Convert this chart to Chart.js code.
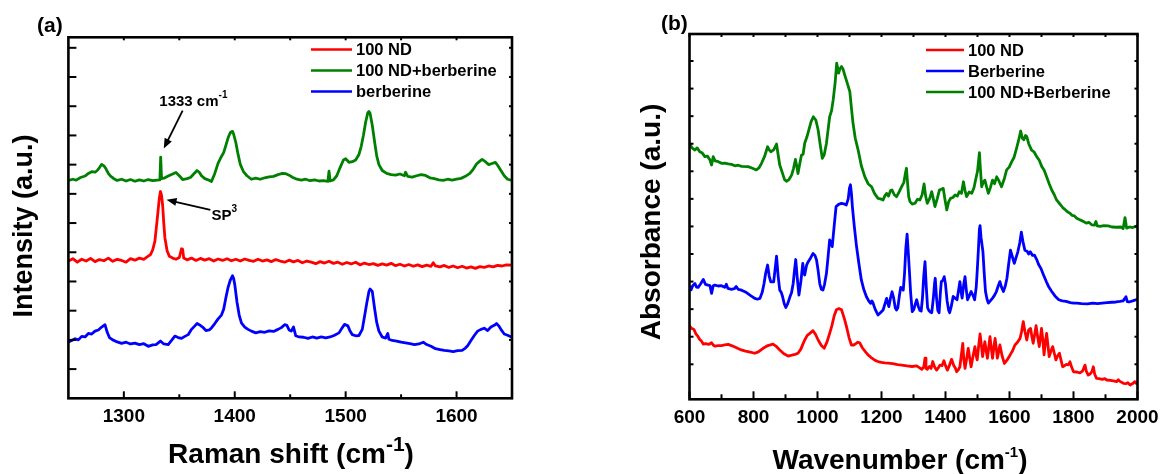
<!DOCTYPE html>
<html>
<head>
<meta charset="utf-8">
<script src="https://cdn.jsdelivr.net/npm/chart.js@4.4.1/dist/chart.umd.min.js"></script>
<style>
    html, body { margin: 0; padding: 0; background: #fff; }
    #wrap { position: relative; width: 1161px; height: 474px; }
    canvas { position: absolute; top: 0; }
    #ramanChart { left: 0; }
    #ftirChart { left: 580px; }
</style>
</head>
<body>
<div id="wrap">
    <canvas id="ramanChart" width="580" height="474"></canvas>
    <canvas id="ftirChart" width="581" height="474"></canvas>
</div>
<script>
        const FONT = 'Arial, "Liberation Sans", Helvetica, sans-serif';

        // ---- (a) Raman ----
        const ramanTicks = [1300, 1400, 1500, 1600];
        const ramanMinorTicks = [1350, 1450, 1550];
        const intensityTicks = [1, 2, 3, 4, 5, 6, 7, 8, 9, 10, 11, 12];

        const ramanNdX = [
            1250, 1254, 1258, 1262, 1266, 1270, 1274, 1278, 1282, 1286,
            1290, 1294, 1298, 1302, 1306, 1310, 1314, 1318, 1321, 1324,
            1326, 1328, 1330, 1332, 1333, 1334, 1335, 1336, 1337, 1339,
            1341, 1344, 1347, 1350, 1352, 1353, 1354, 1357, 1361, 1365,
            1369, 1373, 1377, 1381, 1385, 1389, 1393, 1397, 1401, 1405,
            1409, 1413, 1417, 1421, 1425, 1429, 1433, 1437, 1441, 1445,
            1449, 1453, 1457, 1461, 1465, 1469, 1473, 1477, 1481, 1485,
            1489, 1493, 1497, 1501, 1505, 1509, 1513, 1517, 1521, 1525,
            1529, 1533, 1537, 1541, 1545, 1549, 1553, 1557, 1561, 1565,
            1569, 1573, 1577, 1579, 1581, 1585, 1589, 1593, 1597, 1601,
            1605, 1609, 1613, 1617, 1621, 1625, 1629, 1633, 1637, 1641,
            1645, 1650];
        const ramanNdY = [
            4.70, 4.78, 4.66, 4.76, 4.70, 4.79, 4.68, 4.75, 4.71, 4.80,
            4.69, 4.76, 4.72, 4.66, 4.78, 4.73, 4.80, 4.76, 4.84, 4.92,
            5.08, 5.38, 6.10, 6.85, 7.08, 6.95, 6.60, 6.00, 5.50, 5.05,
            4.86, 4.80, 4.76, 4.82, 5.12, 5.10, 4.80, 4.74, 4.80, 4.72,
            4.79, 4.73, 4.78, 4.70, 4.77, 4.72, 4.78, 4.71, 4.76, 4.70,
            4.77, 4.72, 4.69, 4.76, 4.70, 4.74, 4.68, 4.75, 4.70, 4.66,
            4.73, 4.67, 4.72, 4.64, 4.70, 4.66, 4.61, 4.68, 4.63, 4.69,
            4.62, 4.66, 4.59, 4.65, 4.60, 4.66, 4.57, 4.63, 4.58, 4.61,
            4.55, 4.60, 4.56, 4.62, 4.54, 4.59, 4.53, 4.58, 4.52, 4.57,
            4.51, 4.56, 4.52, 4.64, 4.53, 4.50, 4.55, 4.48, 4.53, 4.47,
            4.52, 4.46, 4.50, 4.45, 4.51, 4.48, 4.53, 4.50, 4.55, 4.53,
            4.57, 4.56];

        const ramanMixX = [
            1250, 1254, 1257, 1261, 1265, 1268, 1271, 1274, 1276, 1278,
            1280, 1282, 1284, 1286, 1288, 1291, 1294, 1298, 1302, 1306,
            1310, 1314, 1318, 1322, 1326, 1330, 1332.5, 1333.2, 1334, 1337,
            1340, 1344, 1347, 1350, 1353, 1357, 1360, 1363, 1366, 1368,
            1370, 1373, 1376, 1379, 1382, 1385, 1388, 1390, 1392, 1394,
            1396, 1398, 1399, 1401, 1403, 1405, 1408, 1411, 1415, 1419,
            1423, 1427, 1431, 1435, 1439, 1443, 1446, 1449, 1452, 1456,
            1460, 1464, 1468, 1472, 1476, 1480, 1484, 1485, 1486, 1489,
            1492, 1495, 1498, 1500, 1503, 1506, 1509, 1512, 1514, 1516,
            1518, 1520, 1521, 1522, 1524, 1526, 1528, 1530, 1533, 1537,
            1541, 1545, 1549, 1553, 1554, 1556, 1560, 1564, 1568, 1572,
            1576, 1580, 1584, 1588, 1592, 1596, 1600, 1604, 1608, 1612,
            1615, 1618, 1621, 1623, 1626, 1629, 1632, 1635, 1637, 1640,
            1643, 1646, 1650];
        const ramanMixY = [
            7.46, 7.50, 7.47, 7.56, 7.61, 7.70, 7.76, 7.74, 7.80, 7.90,
            8.01, 7.96, 7.85, 7.70, 7.61, 7.52, 7.46, 7.50, 7.44, 7.49,
            7.43, 7.48, 7.44, 7.49, 7.45, 7.47, 7.48, 8.26, 7.52, 7.55,
            7.61, 7.68, 7.73, 7.62, 7.49, 7.52, 7.56, 7.68, 7.80, 7.74,
            7.62, 7.52, 7.48, 7.42, 7.70, 8.05, 8.28, 8.41, 8.66, 8.92,
            9.10, 9.14, 9.04, 8.75, 8.35, 8.01, 7.75, 7.62, 7.50, 7.54,
            7.50, 7.55, 7.58, 7.60, 7.66, 7.70, 7.69, 7.64, 7.57, 7.50,
            7.47, 7.50, 7.45, 7.48, 7.44, 7.45, 7.43, 7.78, 7.44, 7.48,
            7.62, 7.90, 8.16, 8.20, 8.08, 8.10, 8.16, 8.35, 8.62, 9.00,
            9.45, 9.78, 9.82, 9.76, 9.35, 8.81, 8.30, 8.00, 7.80, 7.70,
            7.66, 7.64, 7.68, 7.62, 7.74, 7.60, 7.57, 7.62, 7.66, 7.63,
            7.55, 7.52, 7.48, 7.46, 7.50, 7.47, 7.50, 7.53, 7.60, 7.70,
            7.84, 8.02, 8.12, 8.18, 8.10, 8.00, 8.04, 8.08, 7.98, 7.80,
            7.62, 7.50, 7.46];

        const ramanBerX = [
            1250, 1253, 1256, 1259, 1262, 1265, 1268, 1271, 1274, 1277,
            1280, 1283, 1285, 1287, 1290, 1294, 1298, 1302, 1306, 1310,
            1314, 1318, 1322, 1326, 1329, 1333, 1336, 1340, 1343, 1346,
            1349, 1352, 1355, 1358, 1361, 1364, 1366, 1368, 1371, 1374,
            1377, 1379, 1382, 1385, 1388, 1390, 1392, 1394, 1396, 1398,
            1399, 1400, 1402, 1404, 1406, 1409, 1412, 1415, 1419, 1423,
            1427, 1431, 1435, 1439, 1442, 1445, 1447, 1449, 1451, 1453,
            1455, 1458, 1462, 1466, 1470, 1474, 1478, 1482, 1486, 1490,
            1494, 1497, 1499, 1502, 1504, 1506, 1509, 1512, 1515, 1517,
            1519, 1521, 1522, 1524, 1526, 1528, 1530, 1533, 1536, 1538,
            1539, 1542, 1546, 1550, 1554, 1558, 1562, 1566, 1570, 1573,
            1577, 1581, 1585, 1589, 1593, 1597, 1601, 1605, 1608, 1610,
            1613, 1616, 1619, 1622, 1625, 1628, 1631, 1634, 1636, 1638,
            1640, 1643, 1646, 1650];
        const ramanBerY = [
            1.93, 1.98, 2.04, 2.00, 2.12, 2.10, 2.22, 2.20, 2.30, 2.34,
            2.44, 2.52, 2.26, 2.08, 2.00, 1.93, 1.88, 1.92, 1.86, 1.89,
            1.84, 1.87, 1.78, 1.83, 1.84, 1.96, 1.86, 1.84, 1.98, 2.13,
            2.08, 2.05, 2.12, 2.18, 2.36, 2.48, 2.56, 2.52, 2.44, 2.32,
            2.34, 2.41, 2.56, 2.72, 2.85, 3.05, 3.44, 3.80, 4.05, 4.20,
            4.10, 3.90, 3.30, 2.85, 2.58, 2.44, 2.36, 2.30, 2.24, 2.28,
            2.26, 2.31, 2.29, 2.36, 2.42, 2.52, 2.50, 2.34, 2.30, 2.44,
            2.14, 2.10, 2.09, 2.05, 2.10, 2.06, 2.10, 2.07, 2.10, 2.16,
            2.24, 2.42, 2.53, 2.48, 2.30, 2.18, 2.14, 2.15, 2.36, 2.80,
            3.25, 3.66, 3.74, 3.66, 3.10, 2.60, 2.30, 2.10, 2.06, 2.22,
            2.02, 1.98, 1.96, 1.92, 1.90, 1.87, 1.84, 1.86, 1.92, 1.84,
            1.78, 1.70, 1.67, 1.64, 1.62, 1.60, 1.63, 1.64, 1.72, 1.80,
            1.98, 2.15, 2.30, 2.36, 2.40, 2.32, 2.44, 2.50, 2.56, 2.48,
            2.36, 2.20, 2.16, 2.09];

        // ---- (b) FTIR ----
        const ftirTicks = [600, 800, 1000, 1200, 1400, 1600, 1800, 2000];
        const ftirMinorTicks = [700, 900, 1100, 1300, 1500, 1700, 1900];
        const absorbanceTicks = [1, 2, 3, 4, 5, 6, 7, 8, 9, 10, 11, 12];

        const ftirNdX = [
            600, 606, 612, 615, 620, 627, 632, 637, 643, 650,
            660, 669, 674, 679, 690, 700, 710, 721, 735, 750,
            762, 775, 790, 804, 815, 830, 845, 861, 870, 882,
            895, 908, 920, 930, 939, 948, 955, 960, 968, 976,
            986, 994, 1002, 1012, 1021, 1030, 1038, 1045, 1052, 1059,
            1067, 1075, 1080, 1085, 1092, 1099, 1106, 1113, 1120, 1126,
            1132, 1140, 1150, 1158, 1170, 1180, 1189, 1200, 1210, 1221,
            1235, 1250, 1263, 1280, 1295, 1310, 1318, 1326, 1332, 1336,
            1339, 1343, 1350, 1355, 1360, 1366, 1372, 1378, 1383, 1389,
            1395, 1400, 1406, 1412, 1419, 1426, 1430, 1435, 1440, 1445,
            1448, 1454, 1457, 1461, 1466, 1471, 1476, 1480, 1486, 1492,
            1496, 1499, 1504, 1508, 1512, 1516, 1520, 1523, 1527, 1531,
            1535, 1539, 1543, 1547, 1551, 1555, 1559, 1562, 1566, 1570,
            1577, 1584, 1592, 1602, 1610, 1617, 1625, 1633, 1638, 1643,
            1648, 1654, 1660, 1666, 1670, 1674, 1679, 1683, 1688, 1693,
            1697, 1700, 1704, 1708, 1712, 1716, 1720, 1724, 1730, 1735,
            1740, 1745, 1750, 1756, 1761, 1766, 1772, 1778, 1784, 1789,
            1794, 1800, 1810, 1820, 1828, 1836, 1840, 1846, 1852, 1858,
            1862, 1866, 1872, 1880, 1890, 1898, 1904, 1915, 1925, 1935,
            1940, 1945, 1956, 1965, 1970, 1977, 1985, 1992, 1997, 2000];
        const ftirNdY = [
            2.39, 2.30, 2.28, 2.24, 2.10, 2.00, 1.90, 1.85, 1.73, 1.75,
            1.72, 1.78, 1.70, 1.66, 1.68, 1.68, 1.70, 1.72, 1.66, 1.58,
            1.52, 1.48, 1.44, 1.40, 1.45, 1.58, 1.68, 1.73, 1.66, 1.52,
            1.38, 1.30, 1.33, 1.36, 1.40, 1.55, 1.75, 1.88, 2.05, 2.12,
            2.22, 2.08, 1.88, 1.68, 1.58, 1.82, 2.12, 2.40, 2.75, 2.98,
            3.02, 2.98, 2.80, 2.61, 2.30, 1.95, 1.70, 1.70, 1.75, 1.80,
            1.78, 1.60, 1.45, 1.34, 1.22, 1.14, 1.10, 1.07, 1.05, 1.04,
            1.02, 0.99, 0.97, 0.94, 0.92, 0.94, 0.88, 0.82, 0.90, 1.22,
            0.85, 0.82, 0.92, 0.85, 1.10, 0.90, 0.79, 0.88, 0.97, 0.95,
            1.13, 0.95, 0.79, 0.95, 1.18, 0.95, 0.88, 0.73, 0.80, 0.91,
            1.20, 1.76, 1.20, 0.85, 1.20, 1.58, 1.20, 0.91, 1.30, 1.64,
            1.30, 1.16, 1.70, 2.10, 1.70, 1.28, 1.60, 1.82, 1.50, 1.22,
            1.60, 2.00, 1.60, 1.22, 1.60, 1.94, 1.55, 1.22, 1.45, 1.70,
            1.30, 1.03, 1.15, 1.34, 1.50, 1.70, 1.80, 1.94, 2.20, 2.55,
            2.20, 1.88, 2.25, 2.30, 2.00, 1.76, 2.10, 2.40, 2.00, 1.64,
            2.00, 2.30, 1.90, 1.34, 1.80, 2.12, 1.70, 1.28, 1.50, 1.64,
            1.40, 1.16, 1.30, 1.40, 1.15, 0.91, 0.95, 1.00, 0.98, 1.09,
            0.90, 0.73, 0.72, 0.69, 0.75, 0.97, 0.75, 0.61, 0.65, 0.75,
            0.91, 0.65, 0.49, 0.48, 0.45, 0.48, 0.43, 0.42, 0.40, 0.37,
            0.44, 0.38, 0.31, 0.30, 0.33, 0.25, 0.30, 0.37, 0.30, 0.32];

        const ftirBerX = [
            600, 605, 610, 617, 622, 627, 635, 643, 650, 658,
            664, 669, 674, 679, 690, 700, 710, 715, 720, 731,
            740, 746, 752, 760, 768, 778, 790, 804, 812, 820,
            827, 833, 838, 844, 849, 854, 863, 868, 872, 877,
            882, 887, 891, 896, 901, 907, 914, 919, 924, 928,
            932, 937, 942, 948, 954, 957, 960, 966, 971, 978,
            986, 992, 997, 1002, 1007, 1012, 1017, 1022, 1028, 1033,
            1038, 1042, 1046, 1052, 1058, 1066, 1075, 1082, 1090, 1096,
            1100, 1103, 1106, 1109, 1115, 1122, 1130, 1137, 1145, 1153,
            1160, 1166, 1170, 1173, 1180, 1189, 1195, 1205, 1211, 1216,
            1220, 1223, 1228, 1233, 1238, 1243, 1247, 1251, 1256, 1260,
            1264, 1268, 1272, 1276, 1280, 1284, 1287, 1291, 1296, 1301,
            1306, 1310, 1315, 1320, 1324, 1328, 1332, 1336, 1340, 1344,
            1348, 1352, 1357, 1362, 1366, 1368, 1372, 1376, 1380, 1384,
            1387, 1392, 1396, 1400, 1405, 1410, 1413, 1418, 1424, 1430,
            1436, 1441, 1445, 1449, 1452, 1457, 1461, 1465, 1469, 1475,
            1480, 1486, 1491, 1496, 1499, 1503, 1506, 1508, 1511, 1517,
            1521, 1525, 1530, 1534, 1540, 1547, 1553, 1559, 1565, 1570,
            1575, 1581, 1587, 1592, 1597, 1603, 1609, 1615, 1620, 1626,
            1632, 1637, 1642, 1648, 1655, 1660, 1665, 1672, 1678, 1685,
            1691, 1698, 1706, 1715, 1723, 1732, 1742, 1754, 1765, 1777,
            1790, 1800, 1810, 1825, 1844, 1860, 1875, 1889, 1905, 1920,
            1933, 1945, 1955, 1964, 1968, 1973, 1985, 2000];
        const ftirBerY = [
            3.81, 3.70, 3.85, 3.93, 3.80, 3.79, 3.92, 4.08, 3.90, 3.87,
            3.85, 3.57, 3.85, 3.87, 3.84, 3.85, 3.79, 3.90, 3.75, 3.72,
            3.74, 3.82, 3.72, 3.70, 3.66, 3.60, 3.50, 3.39, 3.36, 3.39,
            3.60, 3.93, 4.30, 4.60, 4.20, 3.99, 3.99, 4.50, 4.92, 4.20,
            3.69, 3.60, 3.45, 3.20, 3.06, 3.20, 3.45, 3.60, 3.93, 4.40,
            4.80, 4.10, 3.51, 4.00, 4.66, 4.35, 4.24, 4.60, 4.72, 4.85,
            5.02, 4.95, 4.78, 4.40, 3.93, 3.72, 3.69, 3.90, 4.30, 4.90,
            5.51, 5.40, 5.27, 6.00, 6.72, 6.80, 6.84, 6.82, 6.78, 7.00,
            7.40, 7.51, 7.20, 6.72, 6.00, 5.27, 4.60, 4.06, 3.70, 3.45,
            3.30, 3.21, 3.30, 3.24, 3.00, 2.79, 2.85, 2.97, 3.20, 3.39,
            3.20, 3.09, 3.40, 3.63, 3.40, 3.05, 2.97, 3.05, 3.50, 3.79,
            3.75, 3.69, 4.30, 5.20, 5.72, 5.00, 4.42, 3.60, 2.91, 2.99,
            3.20, 3.34, 3.10, 2.95, 2.93, 3.40, 4.20, 4.72, 3.80, 3.05,
            2.95, 2.90, 2.87, 3.40, 3.95, 4.12, 3.40, 2.95, 2.87, 3.60,
            4.00, 4.05, 4.18, 3.90, 3.30, 2.95, 2.87, 3.10, 3.46, 3.40,
            3.34, 3.70, 4.00, 3.60, 3.40, 3.90, 4.18, 3.70, 3.34, 3.50,
            3.64, 3.50, 3.34, 3.80, 4.36, 5.20, 5.90, 6.03, 5.60, 5.08,
            4.30, 3.64, 3.35, 3.22, 3.30, 3.40, 3.50, 3.64, 3.85, 4.00,
            3.80, 3.64, 3.85, 4.12, 4.60, 5.14, 4.90, 4.66, 4.85, 5.08,
            5.40, 5.79, 5.45, 5.14, 5.10, 5.00, 5.08, 4.95, 4.96, 4.80,
            4.62, 4.48, 4.25, 4.00, 3.80, 3.64, 3.48, 3.34, 3.30, 3.28,
            3.24, 3.22, 3.22, 3.20, 3.19, 3.22, 3.20, 3.22, 3.24, 3.25,
            3.26, 3.28, 3.30, 3.45, 3.27, 3.26, 3.30, 3.36];

        const ftirMixX = [
            600, 608, 617, 624, 632, 640, 648, 656, 664, 669,
            674, 680, 690, 700, 710, 721, 731, 742, 752, 763,
            783, 795, 809, 817, 825, 835, 844, 849, 854, 863,
            872, 877, 882, 890, 897, 903, 911, 919, 925, 931,
            935, 939, 945, 950, 955, 960, 967, 973, 980, 987,
            995, 1002, 1008, 1015, 1021, 1028, 1033, 1038, 1044, 1049,
            1055, 1060, 1063, 1066, 1070, 1075, 1080, 1085, 1093, 1101,
            1106, 1111, 1118, 1127, 1137, 1148, 1158, 1169, 1178, 1189,
            1197, 1205, 1210, 1216, 1222, 1228, 1233, 1240, 1247, 1255,
            1263, 1270, 1275, 1278, 1282, 1285, 1289, 1296, 1305, 1312,
            1320, 1327, 1333, 1338, 1343, 1350, 1357, 1362, 1367, 1374,
            1381, 1387, 1393, 1398, 1404, 1410, 1416, 1423, 1430, 1437,
            1443, 1450, 1456, 1461, 1466, 1474, 1482, 1489, 1495, 1500,
            1506, 1509, 1513, 1518, 1523, 1528, 1534, 1540, 1547, 1553,
            1560, 1567, 1575, 1583, 1591, 1599, 1607, 1614, 1622, 1628,
            1635, 1640, 1645, 1650, 1654, 1660, 1669, 1677, 1685, 1693,
            1701, 1708, 1716, 1724, 1732, 1740, 1747, 1755, 1762, 1768,
            1775, 1782, 1789, 1796, 1803, 1810, 1818, 1824, 1831, 1840,
            1848, 1857, 1866, 1870, 1874, 1883, 1895, 1909, 1920, 1935,
            1948, 1955, 1961, 1966, 1975, 1985, 2000];
        const ftirMixY = [
            9.02, 8.85, 8.77, 8.85, 8.71, 8.66, 8.53, 8.55, 8.41, 8.23,
            8.53, 8.38, 8.35, 8.29, 8.30, 8.27, 8.25, 8.20, 8.22, 8.18,
            8.17, 8.12, 8.05, 8.12, 8.29, 8.55, 8.89, 8.78, 8.71, 8.78,
            8.99, 8.60, 8.23, 7.95, 7.70, 7.64, 7.70, 7.86, 8.10, 8.43,
            8.20, 7.92, 8.30, 8.59, 8.62, 9.02, 9.25, 9.50, 9.80, 9.98,
            9.85, 9.50, 9.00, 8.47, 8.60, 9.02, 9.50, 9.98, 10.20, 10.59,
            11.20, 11.92, 11.75, 11.56, 11.72, 11.80, 11.70, 11.50, 11.20, 10.89,
            10.30, 9.74, 9.20, 8.77, 8.20, 7.80, 7.55, 7.44, 7.20, 7.02,
            7.00, 6.96, 7.10, 7.20, 7.10, 7.30, 7.32, 7.15, 7.08, 7.25,
            7.44, 7.60, 7.95, 8.11, 7.50, 7.08, 6.90, 6.81, 6.84, 6.98,
            6.96, 7.15, 7.54, 7.10, 6.84, 7.00, 7.26, 7.00, 6.72, 7.00,
            7.32, 7.35, 7.38, 7.00, 6.60, 6.90, 7.02, 7.05, 7.14, 7.10,
            7.26, 7.20, 7.62, 7.30, 7.08, 7.25, 7.20, 7.40, 7.74, 8.00,
            8.68, 8.10, 7.44, 7.60, 7.68, 7.45, 7.20, 7.40, 7.68, 7.55,
            7.80, 7.65, 7.44, 7.70, 8.05, 8.15, 8.35, 8.50, 8.83, 9.10,
            9.46, 9.20, 9.14, 9.30, 9.26, 9.00, 8.77, 8.70, 8.53, 8.40,
            8.17, 8.05, 7.80, 7.55, 7.32, 7.15, 6.96, 6.85, 6.75, 6.66,
            6.60, 6.52, 6.48, 6.40, 6.38, 6.30, 6.25, 6.22, 6.18, 6.12,
            6.15, 6.06, 6.05, 6.18, 6.02, 6.00, 6.03, 6.02, 5.98, 5.97,
            5.98, 5.92, 6.32, 5.94, 5.98, 5.96, 6.02];

        const RED = '#ff0000', GREEN = '#008000', BLUE = '#0000ff';

        function pts(xs, ys) {
            return xs.map((x, i) => ({ x: x, y: ys[i] }));
        }

        function series(label, xs, ys, color) {
            return {
                label: label, data: pts(xs, ys), borderColor: color, backgroundColor: color,
                borderWidth: 2.8, pointRadius: 0, tension: 0, fill: false,
                borderJoinStyle: 'round', borderCapStyle: 'round'
            };
        }

        // texte avec exposants : parts = [{t, size, rise}]
        function drawParts(ctx, parts, x, y, align) {
            let w = 0;
            parts.forEach(p => { ctx.font = 'bold ' + p.size + 'px ' + FONT; w += ctx.measureText(p.t).width; });
            let cx = align === 'center' ? x - w / 2 : x;
            ctx.textAlign = 'left';
            ctx.textBaseline = 'alphabetic';
            parts.forEach(p => {
                ctx.font = 'bold ' + p.size + 'px ' + FONT;
                ctx.fillText(p.t, cx, y - (p.rise || 0));
                cx += ctx.measureText(p.t).width;
            });
        }

        function arrow(ctx, x1, y1, x2, y2) {
            const ang = Math.atan2(y2 - y1, x2 - x1);
            const len = 10, half = 4;
            ctx.lineWidth = 1.8;
            ctx.beginPath();
            ctx.moveTo(x1, y1);
            ctx.lineTo(x2 - Math.cos(ang) * len * 0.8, y2 - Math.sin(ang) * len * 0.8);
            ctx.stroke();
            ctx.beginPath();
            ctx.moveTo(x2, y2);
            ctx.lineTo(x2 - Math.cos(ang) * len + Math.sin(ang) * half, y2 - Math.sin(ang) * len - Math.cos(ang) * half);
            ctx.lineTo(x2 - Math.cos(ang) * len - Math.sin(ang) * half, y2 - Math.sin(ang) * len + Math.cos(ang) * half);
            ctx.closePath();
            ctx.fill();
        }

        // cadre, graduations intérieures, étiquettes, légende, annotations, titres
        const framePlugin = {
            id: 'frame',
            afterDraw(chart) {
                const o = chart.options.plugins.frame;
                const ctx = chart.ctx, a = chart.chartArea;
                const sx = chart.scales.x, sy = chart.scales.y;
                const seg = (x1, y1, x2, y2) => { ctx.beginPath(); ctx.moveTo(x1, y1); ctx.lineTo(x2, y2); ctx.stroke(); };
                ctx.save();
                ctx.strokeStyle = '#000';
                ctx.fillStyle = '#000';
                ctx.lineWidth = 2;
                o.majorX.forEach(v => {
                    const px = sx.getPixelForValue(v);
                    seg(px, a.bottom, px, a.bottom - o.xMajor);
                    seg(px, a.top, px, a.top + o.topLen);
                });
                o.minorX.forEach(v => {
                    const px = sx.getPixelForValue(v);
                    seg(px, a.bottom, px, a.bottom - o.xMinor);
                    seg(px, a.top, px, a.top + o.topLen);
                });
                o.yTicks.forEach(v => {
                    const py = sy.getPixelForValue(v);
                    seg(a.left, py, a.left + o.yLen, py);
                    seg(a.right, py, a.right - o.rightLen, py);
                });
                ctx.lineWidth = 2.6;
                ctx.strokeRect(a.left, a.top, a.right - a.left, a.bottom - a.top);

                // étiquettes de l'axe x
                ctx.font = 'bold 19px ' + FONT;
                ctx.textAlign = 'center';
                ctx.textBaseline = 'alphabetic';
                o.majorX.forEach(v => {
                    ctx.fillText(String(v), sx.getPixelForValue(v), a.bottom + o.labelGap);
                });

                // légende
                const lg = o.legend;
                lg.items.forEach((it, i) => {
                    const y = lg.y + i * lg.gap;
                    ctx.strokeStyle = it.color;
                    ctx.lineWidth = 2.5;
                    seg(lg.x, y, lg.x + lg.len, y);
                    ctx.fillStyle = '#000';
                    ctx.font = 'bold 16.5px ' + FONT;
                    ctx.textAlign = 'left';
                    ctx.textBaseline = 'middle';
                    ctx.fillText(it.label, lg.x + lg.len + 4, y + 1);
                });
                ctx.strokeStyle = '#000';
                ctx.fillStyle = '#000';

                // annotations (coordonnées des données)
                (o.notes || []).forEach(n => {
                    drawParts(ctx, n.parts, sx.getPixelForValue(n.x), sy.getPixelForValue(n.y), 'left');
                    arrow(ctx, sx.getPixelForValue(n.from[0]), sy.getPixelForValue(n.from[1]),
                        sx.getPixelForValue(n.to[0]), sy.getPixelForValue(n.to[1]));
                });

                // titres des axes
                drawParts(ctx, o.xTitle.parts, o.xTitle.x, o.xTitle.y, 'center');
                ctx.save();
                ctx.translate(o.yTitle.x, o.yTitle.y);
                ctx.rotate(-Math.PI / 2);
                drawParts(ctx, o.yTitle.parts, 0, 0, 'center');
                ctx.restore();

                // étiquette du panneau
                drawParts(ctx, [{ t: o.panel.t, size: 21 }], o.panel.x, o.panel.y, 'left');
                ctx.restore();
            }
        };

        function makeOptions(cfg) {
            return {
                responsive: false,
                animation: false,
                devicePixelRatio: 1,
                layout: { padding: cfg.padding },
                scales: {
                    x: {
                        type: 'linear', min: cfg.xMin, max: cfg.xMax,
                        afterBuildTicks: s => { s.ticks = cfg.xTicks.map(v => ({ value: v })); },
                        afterFit: s => { s.height = 0; },
                        grid: { display: false, drawTicks: false },
                        border: { display: false },
                        ticks: { display: false }
                    },
                    y: {
                        type: 'linear', min: cfg.yMin, max: cfg.yMax,
                        afterBuildTicks: s => { s.ticks = cfg.yTicks.map(v => ({ value: v })); },
                        afterFit: s => { s.width = 0; },
                        grid: { display: false, drawTicks: false },
                        border: { display: false },
                        ticks: { display: false }
                    }
                },
                plugins: {
                    legend: { display: false },
                    tooltip: { enabled: false },
                    frame: cfg.frame
                }
            };
        }

        window.onload = function () {
            // Spectre Raman (a)
            new Chart(document.getElementById('ramanChart').getContext('2d'), {
                type: 'line',
                data: {
                    datasets: [
                        series('100 ND', ramanNdX, ramanNdY, RED),
                        series('100 ND+berberine', ramanMixX, ramanMixY, GREEN),
                        series('berberine', ramanBerX, ramanBerY, BLUE)
                    ]
                },
                options: makeOptions({
                    padding: { left: 68.4, right: 68, top: 37.3, bottom: 75.7 },
                    xMin: 1250, xMax: 1650, xTicks: ramanTicks,
                    yMin: 0, yMax: 12.36, yTicks: intensityTicks,
                    frame: {
                        majorX: ramanTicks, minorX: ramanMinorTicks, yTicks: intensityTicks,
                        xMajor: 7, xMinor: 4, topLen: 3, yLen: 8, rightLen: 3, labelGap: 24,
                        legend: {
                            x: 311, y: 49.5, gap: 21, len: 41,
                            items: [
                                { label: '100 ND', color: RED },
                                { label: '100 ND+berberine', color: GREEN },
                                { label: 'berberine', color: BLUE }
                            ]
                        },
                        notes: [
                            { parts: [{ t: '1333 cm', size: 15 }, { t: '-1', size: 10, rise: 8 }],
                              x: 1332, y: 10.0, from: [1353, 9.85], to: [1336, 8.55] },
                            { parts: [{ t: 'SP', size: 15 }, { t: '3', size: 10, rise: 8 }],
                              x: 1379, y: 6.1, from: [1378, 6.45], to: [1338.5, 6.8] }
                        ],
                        xTitle: { x: 291, y: 463, parts: [{ t: 'Raman shift (cm', size: 28 }, { t: '-1', size: 21, rise: 12 }, { t: ')', size: 28 }] },
                        yTitle: { x: 32, y: 226, parts: [{ t: 'Intensity (a.u.)', size: 27 }] },
                        panel: { t: '(a)', x: 37, y: 32 }
                    }
                }),
                plugins: [framePlugin]
            });

            // Spectre FTIR (b)
            new Chart(document.getElementById('ftirChart').getContext('2d'), {
                type: 'line',
                data: {
                    datasets: [
                        series('100 ND', ftirNdX, ftirNdY, RED),
                        series('Berberine', ftirBerX, ftirBerY, BLUE),
                        series('100 ND+Berberine', ftirMixX, ftirMixY, GREEN)
                    ]
                },
                options: makeOptions({
                    padding: { left: 109.5, right: 23.5, top: 34, bottom: 74.7 },
                    xMin: 600, xMax: 2000, xTicks: ftirTicks,
                    yMin: -0.27, yMax: 12.98, yTicks: absorbanceTicks,
                    frame: {
                        majorX: ftirTicks, minorX: ftirMinorTicks, yTicks: absorbanceTicks,
                        xMajor: 8, xMinor: 5, topLen: 3, yLen: 4, rightLen: 3, labelGap: 24,
                        legend: {
                            x: 346, y: 50, gap: 21, len: 38,
                            items: [
                                { label: '100 ND', color: RED },
                                { label: 'Berberine', color: BLUE },
                                { label: '100 ND+Berberine', color: GREEN }
                            ]
                        },
                        notes: [],
                        xTitle: { x: 320, y: 469, parts: [{ t: 'Wavenumber (cm', size: 28 }, { t: '-1', size: 15, rise: 12 }, { t: ')', size: 28 }] },
                        yTitle: { x: 80, y: 222, parts: [{ t: 'Absorbance (a.u.)', size: 28 }] },
                        panel: { t: '(b)', x: 81, y: 30 }
                    }
                }),
                plugins: [framePlugin]
            });
        };
</script>
</body>
</html>
